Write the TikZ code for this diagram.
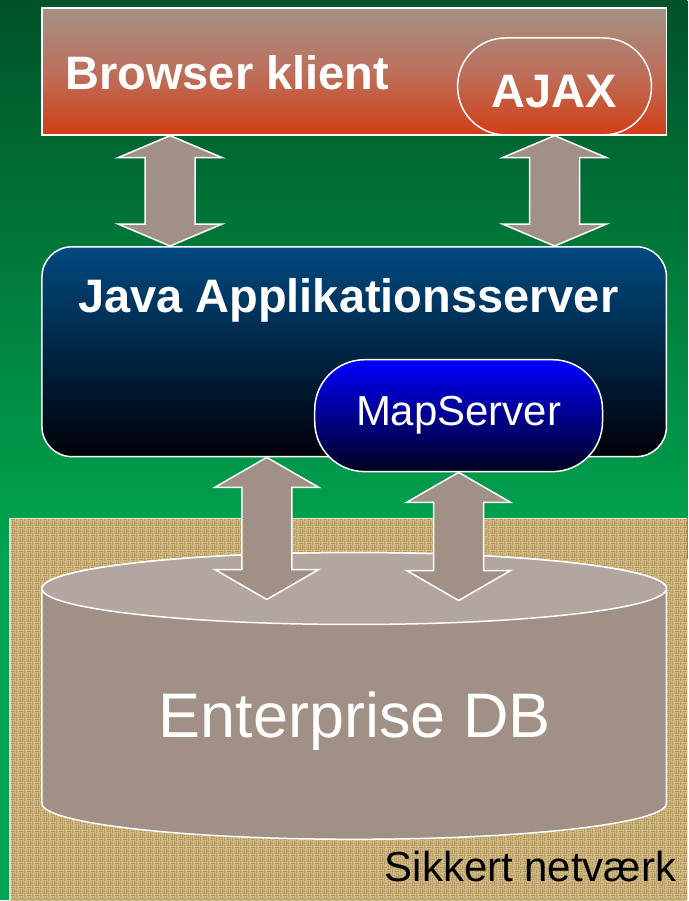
\documentclass[tikz,border=0pt]{standalone}
\usepackage{fontspec}
\setmainfont{Liberation Sans}
\usetikzlibrary{calc,patterns}

\definecolor{bgtop}{RGB}{0,82,40}
\definecolor{bgbot}{RGB}{0,166,80}
\definecolor{taupe}{RGB}{161,144,134}
\definecolor{taupelt}{RGB}{178,166,158}
\definecolor{brtop}{RGB}{163,146,134}
\definecolor{brmid}{RGB}{188,112,92}
\definecolor{brbot}{RGB}{210,62,22}
\definecolor{javatop}{RGB}{0,74,128}
\definecolor{javabot}{RGB}{0,0,8}
\definecolor{maptop}{RGB}{0,0,255}
\definecolor{mapbot}{RGB}{0,0,30}
\definecolor{burlap}{RGB}{128,102,58}
\definecolor{burlaplt}{RGB}{208,184,126}

% woven texture for the secure network
\pgfdeclarepatternformonly{basketweave}{\pgfpointorigin}{\pgfpoint{8pt}{8pt}}{\pgfpoint{8pt}{8pt}}{%
\pgfsetlinewidth{1.5pt}
\pgfpathmoveto{\pgfpoint{0pt}{1pt}}\pgfpathlineto{\pgfpoint{4pt}{1pt}}
\pgfpathmoveto{\pgfpoint{0pt}{3pt}}\pgfpathlineto{\pgfpoint{4pt}{3pt}}
\pgfpathmoveto{\pgfpoint{4pt}{5pt}}\pgfpathlineto{\pgfpoint{8pt}{5pt}}
\pgfpathmoveto{\pgfpoint{4pt}{7pt}}\pgfpathlineto{\pgfpoint{8pt}{7pt}}
\pgfpathmoveto{\pgfpoint{5pt}{0pt}}\pgfpathlineto{\pgfpoint{5pt}{4pt}}
\pgfpathmoveto{\pgfpoint{7pt}{0pt}}\pgfpathlineto{\pgfpoint{7pt}{4pt}}
\pgfpathmoveto{\pgfpoint{1pt}{4pt}}\pgfpathlineto{\pgfpoint{1pt}{8pt}}
\pgfpathmoveto{\pgfpoint{3pt}{4pt}}\pgfpathlineto{\pgfpoint{3pt}{8pt}}
\pgfusepath{stroke}}

\tikzset{
  layerbox/.style={draw=white,line width=1.5pt,inner sep=0pt},
  pill/.style={layerbox,rounded corners=#1},
  blockarr/.style={draw=white,line width=1.5pt,fill=taupe,line join=miter},
  boldlbl/.style={text=white,inner sep=0pt,font=\fontsize{47pt}{50pt}\bfseries\selectfont},
  plainlbl/.style={inner sep=0pt,font=\fontsize{#1}{#1}\selectfont},
  cyl/.style={draw=white,line width=1.5pt}
}

% double block arrow: top point, bottom point, head length
\newcommand{\dblarrow}[3]{%
\draw[blockarr] let \p1=(#1),\p2=(#2) in
 (\x1,\y1)--(\x1+52pt,\y1-#3)--(\x1+25pt,\y1-#3)--(\x1+25pt,\y2+#3)--(\x1+52pt,\y2+#3)
 --(\x1,\y2)--(\x1-52pt,\y2+#3)--(\x1-25pt,\y2+#3)--(\x1-25pt,\y1-#3)--(\x1-52pt,\y1-#3)--cycle;}

\begin{document}
\begin{tikzpicture}[x=1pt,y=1pt]
%background
\shade[top color=bgtop,bottom color=bgbot](0,0)rectangle(688,-560);
\fill[bgbot](0,-560)rectangle(688,-901);

%secure network (burlap)
\fill[burlap](10,-519)rectangle(688,-901);
\fill[pattern=basketweave,pattern color=burlaplt](10,-519)rectangle(688,-901);
\draw[white!60!burlaplt,line width=1.5pt](10,-901)--(10,-519)--(688,-519);
\node[plainlbl=42pt,anchor=base east](net)at(677,-882){Sikkert netværk};

%database
\draw[cyl,fill=taupe](42,-589)--(42,-804)arc[start angle=180,end angle=360,x radius=312.5,y radius=36]
 --(667,-589)arc[start angle=0,end angle=180,x radius=312.5,y radius=36]--cycle;
\draw[cyl,fill=taupelt](354.5,-589)ellipse[x radius=312.5,y radius=36];
\node[plainlbl=63pt,text=white,anchor=base](db)at(355,-738){Enterprise DB};
\coordinate(dbin1)at(267,-600);
\coordinate(dbin2)at(458.5,-601);

%browser
\node[layerbox,minimum width=625pt,minimum height=127pt,top color=brtop,bottom color=brbot,middle color=brmid](browser)at(354.5,-71.5){};
\node[boldlbl,anchor=base west](browserlbl)at([xshift=24pt,yshift=-18.5pt]browser.west){Browser klient};
\node[pill=48pt,minimum width=194pt,minimum height=97pt](ajax)at(555,-86.5){};
\node[boldlbl,anchor=base](ajaxlbl)at([yshift=-21.5pt]ajax.center){AJAX};

%application server
\node[pill=30pt,minimum width=625pt,minimum height=210pt,top color=javatop,bottom color=javabot](java)at(354.5,-352){};
\node[boldlbl,anchor=base](javalbl)at(348.5,-313){Java Applikationsserver};
\node[pill=50pt,minimum width=288pt,minimum height=112pt,top color=maptop,bottom color=mapbot,
 text=white,font=\fontsize{42pt}{42pt}\selectfont](mapserver)at(459,-416){MapServer};

%arrows
\coordinate(up1)at([xshift=129pt]browser.south west);
\dblarrow{up1}{up1 |- java.north}{22pt}
\dblarrow{ajax.south}{ajax.south |- java.north}{22pt}
\dblarrow{java.south -| dbin1}{dbin1}{30pt}
\dblarrow{mapserver.south}{dbin2}{30pt}
\end{tikzpicture}
\end{document}
